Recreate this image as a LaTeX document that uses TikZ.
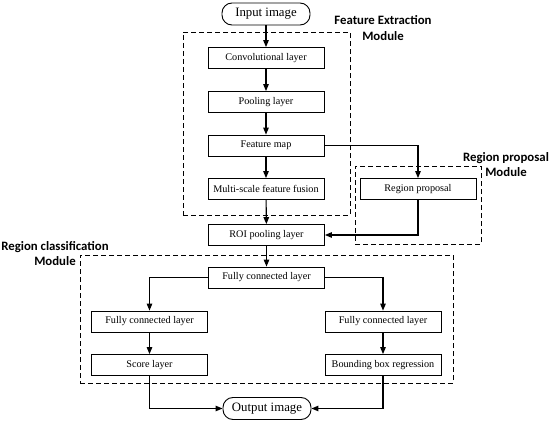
\documentclass[tikz,border=0pt]{standalone}
\usepackage{fontspec}
\setmainfont{Liberation Serif}
\newfontfamily\labelfont{Carlito}
\usetikzlibrary{arrows.meta,calc}
\begin{document}
\begin{tikzpicture}[x=1pt,y=-1pt,
  box/.style={draw,line width=0.8pt,minimum width=116pt,minimum height=21pt,inner sep=0pt,font=\fontsize{10.2}{12}\selectfont},
  term/.style={draw,line width=0.9pt,rounded corners=10pt,minimum width=88pt,minimum height=22pt,inner sep=0pt,font=\fontsize{12.8}{14}\selectfont},
  conn/.style={line width=1.1pt,-{Triangle[length=7pt,width=5.5pt]}},
  modbox/.style={draw,line width=0.9pt,dash pattern=on 5pt off 3pt},
  modlabel/.style={font=\labelfont\bfseries\fontsize{12.8}{15.5}\selectfont,align=center,inner sep=0pt}
]
\useasboundingbox (0,0) rectangle (550,423);
\fill[white] (0,0) rectangle (550,423);

% module frames
\node[modbox,minimum width=167pt,minimum height=183pt,inner sep=0pt] (fe) at (266.5,123.5) {};
\node[modbox,minimum width=126pt,minimum height=78pt,inner sep=0pt] (rpm) at (418,205) {};
\node[modbox,minimum width=373pt,minimum height=128pt,inner sep=0pt] (rcm) at (266.5,319) {};

% module labels
\node[modlabel] (felab) at (383,28) {Feature Extraction\\Module};
\node[modlabel] (rplab) at (506,164.5) {Region proposal\\Module};
\node[modlabel] (rclab) at (55,253.5) {Region classification\\Module};

% nodes
\node[term] (in) at (266,14) {Input image};
\node[box] (conv) at (266,58) {Convolutional layer};
\node[box] (pool) at (266,102) {Pooling layer};
\node[box] (fmap) at (266,145.5) {Feature map};
\node[box] (msf) at (266,189) {Multi-scale feature fusion};
\node[box] (rp) at (418,189) {Region proposal};
\node[box] (roi) at (266.5,235) {ROI pooling layer};
\node[box] (fct) at (266.5,277.5) {Fully connected layer};
\node[box] (fcl) at (149.5,321.5) {Fully connected layer};
\node[box] (fcr) at (383,321.5) {Fully connected layer};
\node[box] (score) at (149.5,365) {Score layer};
\node[box] (bb) at (383,365) {Bounding box regression};
\node[term] (out) at (267,408.5) {Output image};

% connectors
\draw[conn] (in) -- (conv);
\draw[conn] (conv) -- (pool);
\draw[conn] (pool) -- (fmap);
\draw[conn] (fmap) -- (msf);
\draw[conn] (msf) -- (roi);
\draw[conn] (fmap.east) -| (rp.north);
\draw[conn] (rp.south) |- (roi.east);
\draw[conn] (roi) -- (fct);
\draw[conn] (fct.west) -| (fcl.north);
\draw[conn] (fct.east) -| (fcr.north);
\draw[conn] (fcl) -- (score);
\draw[conn] (fcr) -- (bb);
\draw[conn] (score.south) |- (out.west);
\draw[conn] (bb.south) |- (out.east);
\end{tikzpicture}
\end{document}
